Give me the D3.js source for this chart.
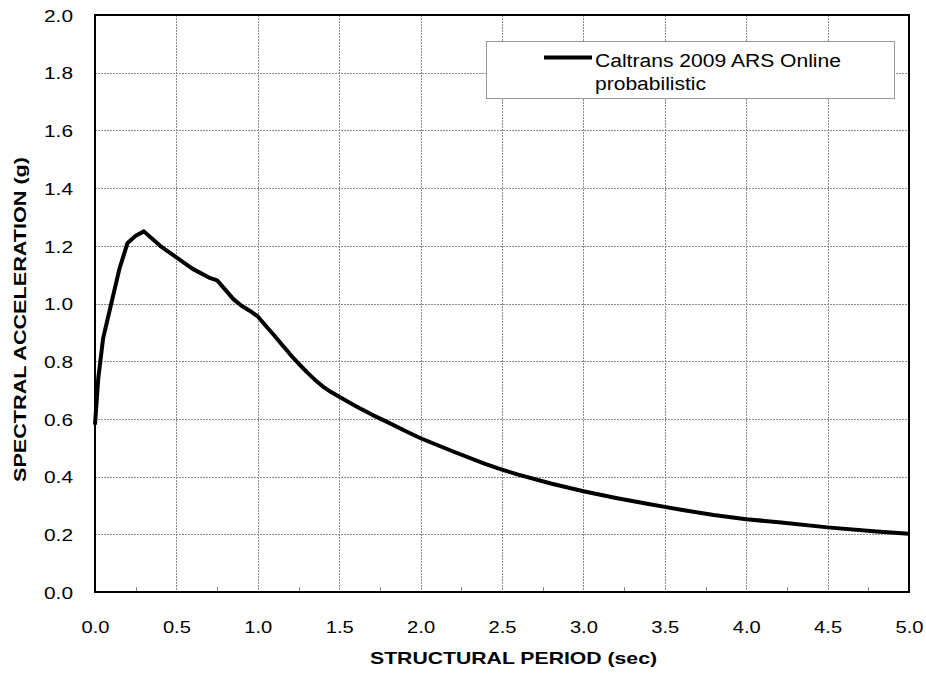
<!DOCTYPE html>
<html>
<head>
<meta charset="utf-8">
<script src="https://cdn.jsdelivr.net/npm/d3@7"></script>
<style>
  body { margin: 0; background: #fff; }
  svg { display: block; font-family: "Liberation Sans", Arial, sans-serif; }
</style>
</head>
<body>
<svg id="chart" width="926" height="673"></svg>
<script>
// ---- data ----
const periods = [0, 0.01, 0.02, 0.05, 0.1, 0.15, 0.2, 0.25, 0.3, 0.4, 0.5, 0.6, 0.7, 0.75, 0.8, 0.85, 0.9, 0.95, 1.0,
  1.05, 1.1, 1.15, 1.2, 1.25, 1.3, 1.35, 1.4, 1.45, 1.5, 1.6, 1.7, 1.8, 1.9, 2.0, 2.2, 2.4, 2.5, 2.6, 2.8, 3.0, 3.2, 3.4, 3.5, 3.6, 3.8,
  4.0, 4.2, 4.5, 4.8, 5.0];
const spectralAccel = [0.58, 0.66, 0.74, 0.88, 1.0, 1.12, 1.21, 1.235, 1.25, 1.20, 1.16, 1.12, 1.09, 1.08, 1.048, 1.015, 0.992, 0.975, 0.955,
  0.922, 0.89, 0.856, 0.823, 0.792, 0.763, 0.736, 0.712, 0.693, 0.677, 0.645, 0.615, 0.588, 0.56, 0.533, 0.487, 0.443, 0.424, 0.407, 0.376, 0.349, 0.326, 0.305, 0.295, 0.285, 0.267,
  0.252, 0.242, 0.224, 0.21, 0.202];
const xTicks = [0, 0.5, 1.0, 1.5, 2.0, 2.5, 3.0, 3.5, 4.0, 4.5, 5.0];
const xMinorTicks = [0.25, 0.75, 1.25, 1.75, 2.25, 2.75, 3.25, 3.75, 4.25, 4.75];
const yTicks = [0, 0.2, 0.4, 0.6, 0.8, 1.0, 1.2, 1.4, 1.6, 1.8, 2.0];
const seriesName = ["Caltrans 2009 ARS Online", "probabilistic"];
const xTitle = "STRUCTURAL PERIOD (sec)";
const yTitle = "SPECTRAL ACCELERATION (g)";

// ---- layout ----
const svg = d3.select("#chart");
const L = 95, R = 909, T = 15, B = 592;
const x = d3.scaleLinear().domain([0, 5]).range([L, R]);
const y = d3.scaleLinear().domain([0, 2]).range([B, T]);
const FONT = "Liberation Sans, Arial, sans-serif";

// grid
const grid = svg.append("g").attr("stroke", "#8a8a8a").attr("stroke-width", 1).attr("stroke-dasharray", "2,1");
grid.selectAll("line.v").data(xTicks.slice(1, -1)).enter().append("line")
  .attr("x1", d => Math.round(x(d)) + 0.5).attr("x2", d => Math.round(x(d)) + 0.5)
  .attr("y1", T).attr("y2", B);
grid.selectAll("line.h").data(yTicks.slice(1, -1)).enter().append("line")
  .attr("y1", d => Math.round(y(d)) + 0.5).attr("y2", d => Math.round(y(d)) + 0.5)
  .attr("x1", L).attr("x2", R);

// minor ticks on bottom axis (inside)
svg.append("g").selectAll("line").data(xMinorTicks).enter().append("line")
  .attr("x1", d => Math.round(x(d)) + 0.5).attr("x2", d => Math.round(x(d)) + 0.5)
  .attr("y1", B).attr("y2", B - 5).attr("stroke", "#888").attr("stroke-width", 1);

// axes labels via d3 axes
const xAxis = d3.axisBottom(x).tickValues(xTicks).tickFormat(d3.format(".1f")).tickSize(0);
const gx = svg.append("g").attr("transform", `translate(0,${B})`).call(xAxis);
gx.select(".domain").remove();
gx.selectAll("text").attr("y", 40.5).attr("dy", 0)
  .attr("font-size", 17).attr("fill", "#000").attr("font-family", FONT)
  .attr("textLength", 28).attr("lengthAdjust", "spacingAndGlyphs");

const yAxis = d3.axisLeft(y).tickValues(yTicks).tickFormat(d3.format(".1f")).tickSize(0);
const gy = svg.append("g").attr("transform", `translate(${L},0)`).call(yAxis);
gy.select(".domain").remove();
gy.selectAll("text").attr("x", -22).attr("dy", 6.2)
  .attr("font-size", 17).attr("fill", "#000").attr("font-family", FONT)
  .attr("textLength", 29).attr("lengthAdjust", "spacingAndGlyphs");

// frame
svg.append("rect").attr("x", L).attr("y", T).attr("width", R - L).attr("height", B - T)
  .attr("fill", "none").attr("stroke", "#000").attr("stroke-width", 2);

// curve
const line = d3.line().x((d, i) => x(periods[i])).y(d => y(d)).curve(d3.curveLinear);
svg.append("path").datum(spectralAccel).attr("d", line)
  .attr("fill", "none").attr("stroke", "#000").attr("stroke-width", 4)
  .attr("stroke-linejoin", "round").attr("stroke-linecap", "butt");

// legend
const lg = svg.append("g");
lg.append("rect").attr("x", 486.5).attr("y", 41.5).attr("width", 408).attr("height", 57)
  .attr("fill", "#fff").attr("stroke", "#999").attr("stroke-width", 1);
lg.append("line").attr("x1", 544).attr("x2", 592).attr("y1", 57.5).attr("y2", 57.5)
  .attr("stroke", "#000").attr("stroke-width", 4);
lg.append("text").attr("x", 595).attr("y", 66.5).attr("font-size", 18).attr("fill", "#000")
  .attr("textLength", 246).attr("lengthAdjust", "spacingAndGlyphs").text(seriesName[0]);
lg.append("text").attr("x", 595).attr("y", 90).attr("font-size", 18).attr("fill", "#000")
  .attr("textLength", 111).attr("lengthAdjust", "spacingAndGlyphs").text(seriesName[1]);

// titles
svg.append("text").attr("x", 370).attr("y", 664)
  .attr("font-size", 17).attr("font-weight", "bold").attr("fill", "#000")
  .attr("textLength", 287).attr("lengthAdjust", "spacingAndGlyphs").text(xTitle);
svg.append("text").attr("transform", `translate(26,482) rotate(-90)`)
  .attr("font-size", 16).attr("font-weight", "bold").attr("fill", "#000")
  .attr("textLength", 325).attr("lengthAdjust", "spacingAndGlyphs").text(yTitle);
</script>
</body>
</html>
